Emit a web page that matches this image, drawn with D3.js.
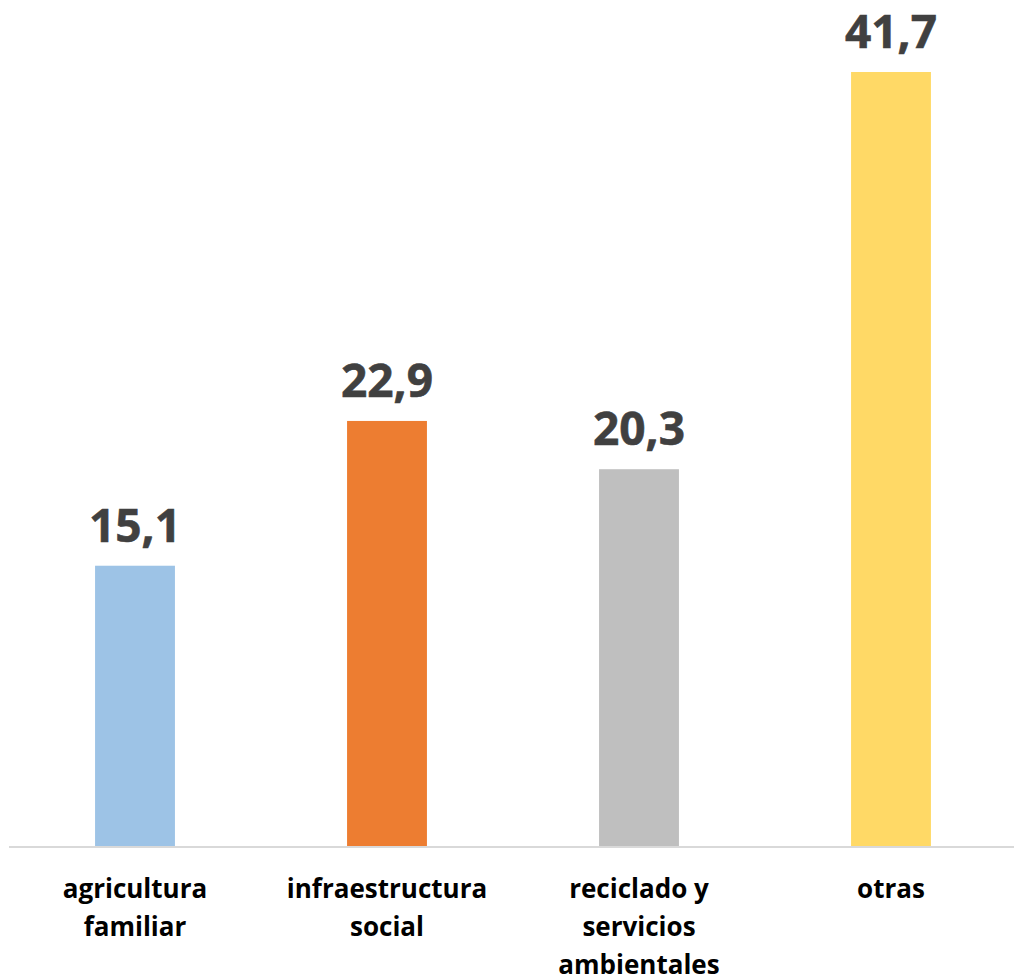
<!DOCTYPE html>
<html>
<head>
<meta charset="utf-8">
<script src="https://cdn.jsdelivr.net/npm/d3@7"></script>
<style>
  body { margin: 0; background: #fff; }
  text { font-family: "Open Sans", "Noto Sans", sans-serif; font-weight: bold; }
</style>
</head>
<body>
<script>
// categories and values
var categories = ["agricultura familiar", "infraestructura social", "reciclado y servicios ambientales", "otras"];
var labelLines = [["agricultura", "familiar"], ["infraestructura", "social"], ["reciclado y", "servicios", "ambientales"], ["otras"]];
var values = [15.1, 22.9, 20.3, 41.7];
var colors = ["#9DC3E6", "#ED7D31", "#BFBFBF", "#FFD966"];

var width = 1014,
    height = 980,
    baseY = 846;

var svg = d3.select("body")
            .append("svg")
            .attr("width", width)
            .attr("height", height);

var x = d3.scaleBand()
          .domain(categories)
          .range([9, 1017])
          .paddingInner(0.683)
          .paddingOuter(0.3415);

var y = d3.scaleLinear()
          .domain([0, 41.7])
          .range([baseY, 72]);

// bars
svg.selectAll("rect.bar")
   .data(values)
   .enter().append("rect")
   .attr("class", "bar")
   .attr("x", function(d, i) { return x(categories[i]); })
   .attr("y", function(d) { return y(d); })
   .attr("width", x.bandwidth())
   .attr("height", function(d) { return baseY - y(d); })
   .attr("fill", function(d, i) { return colors[i]; });

// axis line
svg.append("line")
   .attr("x1", 9)
   .attr("x2", width)
   .attr("y1", baseY + 1)
   .attr("y2", baseY + 1)
   .attr("stroke", "#D9D9D9")
   .attr("stroke-width", 2);

// value labels
svg.selectAll("text.val")
   .data(values)
   .enter().append("text")
   .attr("class", "val")
   .attr("x", function(d, i) { return x(categories[i]) + x.bandwidth() / 2; })
   .attr("y", function(d) { return y(d) - 24; })
   .attr("text-anchor", "middle")
   .attr("font-size", 46)
   .attr("fill", "#404040")
   .attr("stroke", "#404040")
   .attr("stroke-width", 0.6)
   .text(function(d) { return d3.format(".1f")(d).replace(".", ","); });

// category labels
var cat = svg.selectAll("text.cat")
   .data(categories)
   .enter().append("text")
   .attr("class", "cat")
   .attr("text-anchor", "middle")
   .attr("font-size", 26)
   .attr("fill", "#000");

cat.each(function(c, i) {
  var t = d3.select(this);
  labelLines[i].forEach(function(line, j) {
    t.append("tspan")
     .attr("x", x(c) + x.bandwidth() / 2)
     .attr("y", 897.5 + j * 38.3)
     .text(line);
  });
});
</script>
</body>
</html>
